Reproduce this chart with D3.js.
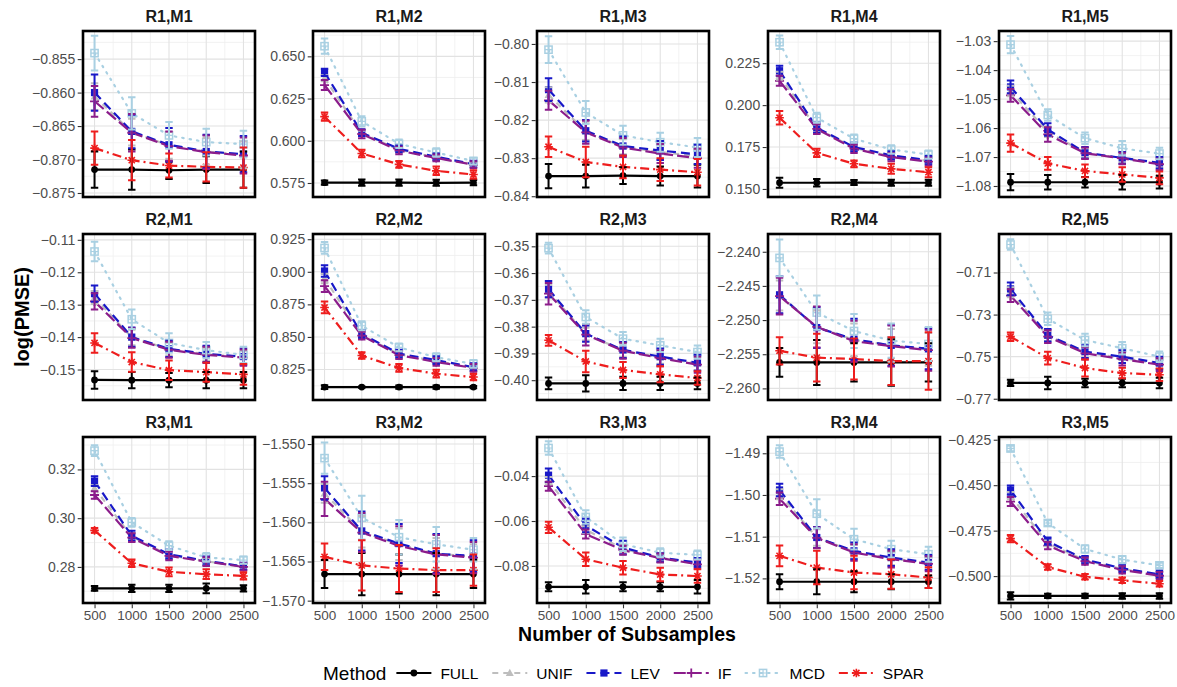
<!DOCTYPE html>
<html>
<head>
<meta charset="utf-8">
<script src="https://cdn.jsdelivr.net/npm/d3@7"></script>
<style>
  body { margin: 0; background: #ffffff; }
  svg { display: block; font-family: "Liberation Sans", Arial, Helvetica, sans-serif; }
</style>
</head>
<body>
<svg id="chart" width="1177" height="687"></svg>
<script>
// ---- data: log(PMSE) mean and standard error by number of subsamples ----
const subsamples = [500, 1000, 1500, 2000, 2500];
const panelNames = ["R1,M1", "R1,M2", "R1,M3", "R1,M4", "R1,M5",
                    "R2,M1", "R2,M2", "R2,M3", "R2,M4", "R2,M5",
                    "R3,M1", "R3,M2", "R3,M3", "R3,M4", "R3,M5"];
const methodNames = ["FULL", "UNIF", "LEV", "IF", "MCD", "SPAR"];

const fullMean = [
  [-0.8715, -0.8715, -0.8716, -0.8715, -0.8715],
  [0.5752, 0.5752, 0.5752, 0.5751, 0.5752],
  [-0.8347, -0.8347, -0.8346, -0.8347, -0.8347],
  [0.1537, 0.1537, 0.1538, 0.1537, 0.1537],
  [-1.0787, -1.0787, -1.0787, -1.0787, -1.0787],
  [-0.1532, -0.1533, -0.1533, -0.1533, -0.1533],
  [0.8115, 0.8115, 0.8115, 0.8115, 0.8115],
  [-0.4012, -0.4012, -0.4012, -0.4012, -0.4012],
  [-2.2562, -2.2562, -2.2562, -2.2562, -2.2562],
  [-0.7625, -0.7625, -0.7625, -0.7625, -0.7625],
  [0.2712, 0.2712, 0.2712, 0.2712, 0.2712],
  [-1.5666, -1.5666, -1.5666, -1.5666, -1.5666],
  [-0.0893, -0.0893, -0.0893, -0.0893, -0.0893],
  [-1.5208, -1.5208, -1.5208, -1.5208, -1.5208],
  [-0.5109, -0.5109, -0.5109, -0.5109, -0.5109]
];
const fullSE = [
  [0.0027, 0.0030, 0.0013, 0.0020, 0.0027],
  [0.0012, 0.0018, 0.0018, 0.0018, 0.0015],
  [0.0032, 0.0030, 0.0022, 0.0025, 0.0030],
  [0.0030, 0.0022, 0.0015, 0.0018, 0.0018],
  [0.0028, 0.0025, 0.0018, 0.0025, 0.0022],
  [0.0027, 0.0025, 0.0022, 0.0025, 0.0025],
  [0.0015, 0.0005, 0.0012, 0.0012, 0.0008],
  [0.0022, 0.0030, 0.0025, 0.0025, 0.0022],
  [0.0021, 0.0033, 0.0028, 0.0034, 0.0028],
  [0.0015, 0.0030, 0.0020, 0.0020, 0.0025],
  [0.0010, 0.0015, 0.0015, 0.0020, 0.0013],
  [0.0018, 0.0027, 0.0025, 0.0027, 0.0018],
  [0.0020, 0.0030, 0.0020, 0.0020, 0.0030],
  [0.0018, 0.0030, 0.0025, 0.0018, 0.0015],
  [0.0020, 0.0012, 0.0012, 0.0015, 0.0015]
];

const unifMean = [
  [-0.8606, -0.8659, -0.8679, -0.8688, -0.8693],
  [0.6370, 0.6044, 0.5947, 0.5901, 0.5860],
  [-0.8134, -0.8230, -0.8270, -0.8284, -0.8295],
  [0.2175, 0.1861, 0.1745, 0.1695, 0.1667],
  [-1.0472, -1.0613, -1.0686, -1.0704, -1.0722],
  [-0.1278, -0.1401, -0.1437, -0.1453, -0.1461],
  [0.8948, 0.8516, 0.8366, 0.8315, 0.8265],
  [-0.3668, -0.3828, -0.3888, -0.3915, -0.3938],
  [-2.2464, -2.2510, -2.2529, -2.2537, -2.2543],
  [-0.7194, -0.7401, -0.7480, -0.7506, -0.7534],
  [0.3123, 0.2924, 0.2848, 0.2823, 0.2801],
  [-1.5563, -1.5612, -1.5628, -1.5640, -1.5644],
  [-0.0420, -0.0639, -0.0724, -0.0764, -0.0789],
  [-1.4998, -1.5102, -1.5136, -1.5152, -1.5163],
  [-0.4558, -0.4820, -0.4913, -0.4961, -0.4994]
];
const unifSE = [
  [0.0020, 0.0020, 0.0020, 0.0020, 0.0020],
  [0.0018, 0.0016, 0.0016, 0.0016, 0.0016],
  [0.0020, 0.0022, 0.0020, 0.0020, 0.0020],
  [0.0024, 0.0024, 0.0020, 0.0020, 0.0020],
  [0.0018, 0.0018, 0.0016, 0.0016, 0.0016],
  [0.0020, 0.0024, 0.0020, 0.0020, 0.0020],
  [0.0036, 0.0024, 0.0024, 0.0024, 0.0024],
  [0.0024, 0.0024, 0.0024, 0.0024, 0.0024],
  [0.0022, 0.0024, 0.0024, 0.0024, 0.0024],
  [0.0024, 0.0024, 0.0024, 0.0024, 0.0024],
  [0.0012, 0.0015, 0.0014, 0.0014, 0.0012],
  [0.0012, 0.0020, 0.0020, 0.0020, 0.0016],
  [0.0016, 0.0016, 0.0016, 0.0016, 0.0016],
  [0.0012, 0.0020, 0.0016, 0.0016, 0.0014],
  [0.0020, 0.0016, 0.0016, 0.0016, 0.0016]
];

const levMean = [
  [-0.8600, -0.8658, -0.8678, -0.8688, -0.8692],
  [0.6405, 0.6048, 0.5952, 0.5905, 0.5862],
  [-0.8120, -0.8228, -0.8268, -0.8280, -0.8290],
  [0.2205, 0.1865, 0.1750, 0.1700, 0.1672],
  [-1.0458, -1.0605, -1.0685, -1.0703, -1.0720],
  [-0.1266, -0.1400, -0.1436, -0.1452, -0.1460],
  [0.9006, 0.8522, 0.8372, 0.8322, 0.8268],
  [-0.3660, -0.3826, -0.3887, -0.3912, -0.3935],
  [-2.2463, -2.2511, -2.2528, -2.2537, -2.2542],
  [-0.7178, -0.7398, -0.7476, -0.7500, -0.7530],
  [0.3152, 0.2928, 0.2852, 0.2825, 0.2802],
  [-1.5556, -1.5611, -1.5627, -1.5640, -1.5643],
  [-0.0396, -0.0620, -0.0718, -0.0763, -0.0785],
  [-1.4988, -1.5102, -1.5134, -1.5150, -1.5162],
  [-0.4527, -0.4808, -0.4909, -0.4957, -0.4991]
];
const levSE = [
  [0.0027, 0.0025, 0.0025, 0.0025, 0.0027],
  [0.0022, 0.0020, 0.0020, 0.0020, 0.0020],
  [0.0030, 0.0028, 0.0025, 0.0025, 0.0025],
  [0.0030, 0.0030, 0.0025, 0.0025, 0.0025],
  [0.0022, 0.0022, 0.0020, 0.0020, 0.0020],
  [0.0025, 0.0030, 0.0025, 0.0025, 0.0025],
  [0.0045, 0.0030, 0.0030, 0.0030, 0.0030],
  [0.0030, 0.0030, 0.0030, 0.0030, 0.0030],
  [0.0027, 0.0030, 0.0030, 0.0030, 0.0030],
  [0.0030, 0.0030, 0.0030, 0.0030, 0.0030],
  [0.0020, 0.0020, 0.0018, 0.0018, 0.0015],
  [0.0015, 0.0025, 0.0025, 0.0025, 0.0020],
  [0.0030, 0.0030, 0.0030, 0.0020, 0.0020],
  [0.0015, 0.0025, 0.0020, 0.0020, 0.0018],
  [0.0025, 0.0020, 0.0020, 0.0020, 0.0020]
];

const ifMean = [
  [-0.8613, -0.8660, -0.8680, -0.8689, -0.8694],
  [0.6330, 0.6040, 0.5942, 0.5898, 0.5858],
  [-0.8148, -0.8232, -0.8272, -0.8288, -0.8300],
  [0.2145, 0.1858, 0.1740, 0.1690, 0.1663],
  [-1.0487, -1.0622, -1.0687, -1.0705, -1.0725],
  [-0.1290, -0.1403, -0.1439, -0.1455, -0.1463],
  [0.8890, 0.8510, 0.8360, 0.8308, 0.8262],
  [-0.3677, -0.3830, -0.3890, -0.3918, -0.3942],
  [-2.2465, -2.2510, -2.2531, -2.2538, -2.2544],
  [-0.7210, -0.7405, -0.7484, -0.7512, -0.7538],
  [0.3095, 0.2920, 0.2845, 0.2822, 0.2800],
  [-1.5570, -1.5613, -1.5630, -1.5641, -1.5645],
  [-0.0445, -0.0658, -0.0730, -0.0765, -0.0793],
  [-1.5009, -1.5103, -1.5138, -1.5154, -1.5165],
  [-0.4590, -0.4832, -0.4918, -0.4966, -0.4998]
];
const ifSE = [
  [0.0023, 0.0028, 0.0022, 0.0025, 0.0027],
  [0.0030, 0.0025, 0.0022, 0.0020, 0.0020],
  [0.0025, 0.0030, 0.0025, 0.0025, 0.0025],
  [0.0030, 0.0030, 0.0025, 0.0025, 0.0025],
  [0.0022, 0.0025, 0.0020, 0.0020, 0.0020],
  [0.0025, 0.0030, 0.0025, 0.0025, 0.0025],
  [0.0045, 0.0030, 0.0030, 0.0030, 0.0030],
  [0.0040, 0.0040, 0.0030, 0.0030, 0.0030],
  [0.0027, 0.0030, 0.0030, 0.0030, 0.0030],
  [0.0030, 0.0030, 0.0030, 0.0030, 0.0030],
  [0.0015, 0.0018, 0.0018, 0.0018, 0.0015],
  [0.0022, 0.0025, 0.0025, 0.0025, 0.0020],
  [0.0020, 0.0020, 0.0020, 0.0020, 0.0020],
  [0.0015, 0.0025, 0.0020, 0.0020, 0.0018],
  [0.0025, 0.0020, 0.0020, 0.0020, 0.0020]
];

const mcdMean = [
  [-0.8541, -0.8631, -0.8664, -0.8674, -0.8677],
  [0.6560, 0.6115, 0.5982, 0.5930, 0.5880],
  [-0.8015, -0.8180, -0.8240, -0.8258, -0.8272],
  [0.2375, 0.1925, 0.1800, 0.1735, 0.1705],
  [-1.0312, -1.0555, -1.0635, -1.0670, -1.0688],
  [-0.1136, -0.1345, -0.1418, -0.1440, -0.1455],
  [0.9183, 0.8586, 0.8420, 0.8344, 0.8293],
  [-0.3507, -0.3764, -0.3845, -0.3870, -0.3895],
  [-2.2409, -2.2489, -2.2516, -2.2530, -2.2535],
  [-0.6967, -0.7320, -0.7421, -0.7460, -0.7500],
  [0.3277, 0.2983, 0.2887, 0.2839, 0.2828],
  [-1.5518, -1.5594, -1.5619, -1.5628, -1.5635],
  [-0.0275, -0.0582, -0.0703, -0.0741, -0.0751],
  [-1.4896, -1.5045, -1.5106, -1.5130, -1.5142],
  [-0.4298, -0.4708, -0.4851, -0.4909, -0.4941]
];
const mcdSE = [
  [0.0026, 0.0024, 0.0020, 0.0020, 0.0020],
  [0.0045, 0.0030, 0.0025, 0.0025, 0.0020],
  [0.0035, 0.0030, 0.0025, 0.0025, 0.0025],
  [0.0040, 0.0030, 0.0025, 0.0025, 0.0025],
  [0.0030, 0.0020, 0.0020, 0.0025, 0.0020],
  [0.0030, 0.0030, 0.0030, 0.0025, 0.0025],
  [0.0045, 0.0035, 0.0030, 0.0030, 0.0030],
  [0.0020, 0.0025, 0.0025, 0.0025, 0.0025],
  [0.0027, 0.0025, 0.0025, 0.0025, 0.0025],
  [0.0025, 0.0030, 0.0030, 0.0030, 0.0025],
  [0.0022, 0.0018, 0.0018, 0.0018, 0.0015],
  [0.0020, 0.0028, 0.0022, 0.0022, 0.0015],
  [0.0030, 0.0030, 0.0030, 0.0020, 0.0020],
  [0.0015, 0.0035, 0.0025, 0.0020, 0.0018],
  [0.0015, 0.0015, 0.0020, 0.0020, 0.0015]
];

const sparMean = [
  [-0.8683, -0.8701, -0.8709, -0.8711, -0.8712],
  [0.6143, 0.5925, 0.5860, 0.5822, 0.5800],
  [-0.8270, -0.8310, -0.8323, -0.8330, -0.8337],
  [0.1925, 0.1715, 0.1650, 0.1620, 0.1600],
  [-1.0652, -1.0722, -1.0748, -1.0760, -1.0772],
  [-0.1418, -0.1477, -0.1502, -0.1508, -0.1515],
  [0.8726, 0.8357, 0.8262, 0.8218, 0.8192],
  [-0.3851, -0.3930, -0.3962, -0.3978, -0.3992],
  [-2.2545, -2.2555, -2.2557, -2.2560, -2.2560],
  [-0.7405, -0.7507, -0.7554, -0.7578, -0.7586],
  [0.2950, 0.2815, 0.2780, 0.2770, 0.2763],
  [-1.5644, -1.5655, -1.5659, -1.5661, -1.5661],
  [-0.0628, -0.0770, -0.0808, -0.0838, -0.0845],
  [-1.5146, -1.5174, -1.5186, -1.5190, -1.5198],
  [-0.4794, -0.4950, -0.5004, -0.5023, -0.5042]
];
const sparSE = [
  [0.0025, 0.0030, 0.0018, 0.0022, 0.0030],
  [0.0025, 0.0022, 0.0020, 0.0025, 0.0025],
  [0.0027, 0.0040, 0.0030, 0.0030, 0.0035],
  [0.0040, 0.0025, 0.0020, 0.0030, 0.0030],
  [0.0030, 0.0022, 0.0022, 0.0025, 0.0022],
  [0.0030, 0.0030, 0.0030, 0.0030, 0.0032],
  [0.0045, 0.0025, 0.0030, 0.0030, 0.0025],
  [0.0020, 0.0040, 0.0030, 0.0030, 0.0025],
  [0.0020, 0.0035, 0.0030, 0.0035, 0.0042],
  [0.0020, 0.0030, 0.0040, 0.0025, 0.0030],
  [0.0010, 0.0015, 0.0018, 0.0020, 0.0015],
  [0.0017, 0.0032, 0.0030, 0.0028, 0.0020],
  [0.0025, 0.0030, 0.0030, 0.0030, 0.0030],
  [0.0025, 0.0040, 0.0040, 0.0035, 0.0025],
  [0.0020, 0.0015, 0.0015, 0.0015, 0.0015]
];

// y-axis limits, first major tick, tick spacing and label decimals for each panel
const yLimits = [
  [-0.8756, -0.8508], [0.5667, 0.6650], [-0.8402, -0.7966], [0.1452, 0.2442], [-1.0838, -1.0265],
  [-0.1594, -0.1082], [0.8016, 0.9290], [-0.4074, -0.3454], [-2.2617, -2.2374], [-0.7706, -0.6917],
  [0.2652, 0.3333], [-1.5703, -1.5491], [-0.0965, -0.0226], [-1.5259, -1.4861], [-0.5148, -0.4235]
];
const yTickFirst = [-0.875, 0.575, -0.84, 0.150, -1.08,
                    -0.15, 0.825, -0.40, -2.260, -0.77,
                    0.28, -1.570, -0.08, -1.52, -0.500];
const yTickStep = [0.005, 0.025, 0.01, 0.025, 0.01,
                   0.01, 0.025, 0.01, 0.005, 0.02,
                   0.02, 0.005, 0.02, 0.01, 0.025];
const yTickDigits = [3, 3, 2, 3, 2,
                     2, 3, 2, 3, 2,
                     2, 3, 2, 2, 3];

const meanByMethod = { FULL: fullMean, UNIF: unifMean, LEV: levMean, IF: ifMean, MCD: mcdMean, SPAR: sparMean };
const seByMethod   = { FULL: fullSE,   UNIF: unifSE,   LEV: levSE,   IF: ifSE,   MCD: mcdSE,   SPAR: sparSE };

// ---- appearance ----
const methodStyle = {
  FULL: { color: "#000000", dash: null,        shape: "circle" },
  UNIF: { color: "#BEBEBE", dash: "6,5",       shape: "triangle" },
  LEV:  { color: "#1818C8", dash: "9,5",       shape: "square" },
  IF:   { color: "#8B1C8B", dash: "12,4",      shape: "plus" },
  MCD:  { color: "#A9D0E2", dash: "1.5,6",     shape: "squareplus" },
  SPAR: { color: "#EE1D1D", dash: "9,4,2,4",   shape: "asterisk" }
};

const W = 1177, H = 687;
const colLeft = [83, 313, 537, 768, 999];
const rowTop = [31, 234, 437];
const panelW = 172, panelH = 166;
const capHalf = 50; // half-width of error-bar caps in x-data units
const minus = s => s.replace(/-/g, "\u2212");

const svg = d3.select("#chart");
svg.append("rect").attr("width", W).attr("height", H).attr("fill", "#ffffff");
const defs = svg.append("defs");

function drawMarker(g, shape, color, cx, cy) {
  const s = 3.6;
  if (shape === "circle") {
    g.append("circle").attr("cx", cx).attr("cy", cy).attr("r", 3.4).attr("fill", color);
  } else if (shape === "triangle") {
    g.append("path").attr("d", `M${cx},${cy - 4.2}L${cx + 4},${cy + 3}L${cx - 4},${cy + 3}Z`).attr("fill", color);
  } else if (shape === "square") {
    g.append("rect").attr("x", cx - s).attr("y", cy - s).attr("width", 2 * s).attr("height", 2 * s).attr("fill", color);
  } else if (shape === "plus") {
    g.append("path").attr("d", `M${cx - 4.5},${cy}H${cx + 4.5}M${cx},${cy - 4.5}V${cy + 4.5}`)
      .attr("stroke", color).attr("stroke-width", 1.8).attr("fill", "none");
  } else if (shape === "squareplus") {
    g.append("rect").attr("x", cx - s).attr("y", cy - s).attr("width", 2 * s).attr("height", 2 * s)
      .attr("fill", "none").attr("stroke", color).attr("stroke-width", 1.5);
    g.append("path").attr("d", `M${cx - s},${cy}H${cx + s}M${cx},${cy - s}V${cy + s}`)
      .attr("stroke", color).attr("stroke-width", 1.2).attr("fill", "none");
  } else if (shape === "asterisk") {
    const a = 4.3, b = 3.1;
    g.append("path").attr("d",
      `M${cx - a},${cy}H${cx + a}M${cx},${cy - a}V${cy + a}M${cx - b},${cy - b}L${cx + b},${cy + b}M${cx - b},${cy + b}L${cx + b},${cy - b}`)
      .attr("stroke", color).attr("stroke-width", 1.6).attr("fill", "none");
  }
}

panelNames.forEach((name, i) => {
  const r = Math.floor(i / 5), c = i % 5;
  const left = colLeft[c], top = rowTop[r];

  const xr = [d3.min(subsamples) - capHalf, d3.max(subsamples) + capHalf];
  const xpad = (xr[1] - xr[0]) * 0.05;
  const x = d3.scaleLinear().domain([xr[0] - xpad, xr[1] + xpad]).range([left, left + panelW]);
  const y = d3.scaleLinear().domain(yLimits[i]).range([top + panelH, top]);

  const g = svg.append("g");
  const clipId = "clip" + i;
  defs.append("clipPath").attr("id", clipId).append("rect")
    .attr("x", left).attr("y", top).attr("width", panelW).attr("height", panelH);

  // grid lines
  const step = yTickStep[i];
  const [lo, hi] = yLimits[i];
  const majors = [];
  for (let v = yTickFirst[i]; v <= hi + 1e-9; v += step) majors.push(+v.toFixed(6));
  const minors = [majors[0] - step / 2].concat(majors.map(v => v + step / 2)).filter(m => m > lo && m < hi);
  const xMinors = d3.pairs(subsamples).map(p => (p[0] + p[1]) / 2);

  const grid = g.append("g");
  grid.selectAll(".ymin").data(minors).enter().append("line")
    .attr("x1", left).attr("x2", left + panelW).attr("y1", d => y(d)).attr("y2", d => y(d))
    .attr("stroke", "#EFEFEF").attr("stroke-width", 0.8);
  grid.selectAll(".xmin").data(xMinors).enter().append("line")
    .attr("y1", top).attr("y2", top + panelH).attr("x1", d => x(d)).attr("x2", d => x(d))
    .attr("stroke", "#EFEFEF").attr("stroke-width", 0.8);
  grid.selectAll(".ymaj").data(majors).enter().append("line")
    .attr("x1", left).attr("x2", left + panelW).attr("y1", d => y(d)).attr("y2", d => y(d))
    .attr("stroke", "#E2E2E2").attr("stroke-width", 1.1);
  grid.selectAll(".xmaj").data(subsamples).enter().append("line")
    .attr("y1", top).attr("y2", top + panelH).attr("x1", d => x(d)).attr("x2", d => x(d))
    .attr("stroke", "#E2E2E2").attr("stroke-width", 1.1);

  const plot = g.append("g").attr("clip-path", `url(#${clipId})`);

  // lines
  const line = d3.line().x((d, j) => x(subsamples[j])).y(d => y(d));
  methodNames.forEach(m => {
    const st = methodStyle[m];
    plot.append("path").datum(meanByMethod[m][i]).attr("d", line)
      .attr("fill", "none").attr("stroke", st.color).attr("stroke-width", 2.2)
      .attr("stroke-dasharray", st.dash).attr("stroke-linecap", m === "MCD" ? "round" : "butt");
  });

  // points
  methodNames.forEach(m => {
    const st = methodStyle[m];
    const pg = plot.append("g");
    meanByMethod[m][i].forEach((v, j) => drawMarker(pg, st.shape, st.color, x(subsamples[j]), y(v)));
  });

  // error bars
  methodNames.forEach(m => {
    const st = methodStyle[m];
    const eg = plot.append("g").attr("stroke", st.color).attr("stroke-width", 2).attr("fill", "none");
    meanByMethod[m][i].forEach((v, j) => {
      const se = seByMethod[m][i][j];
      const xs = subsamples[j];
      const yT = y(v + se), yB = y(v - se);
      eg.append("path").attr("d",
        `M${x(xs)},${yT}V${yB}M${x(xs - capHalf)},${yT}H${x(xs + capHalf)}M${x(xs - capHalf)},${yB}H${x(xs + capHalf)}`);
    });
  });

  // panel border
  g.append("rect").attr("x", left).attr("y", top).attr("width", panelW).attr("height", panelH)
    .attr("fill", "none").attr("stroke", "#000").attr("stroke-width", 2.6);

  // y axis
  const fmt = d3.format("." + yTickDigits[i] + "f");
  const ya = g.append("g").attr("transform", `translate(${left - 1.3},0)`)
    .call(d3.axisLeft(y).tickValues(majors).tickSize(4).tickPadding(2.5).tickFormat(d => minus(fmt(d))));
  ya.select(".domain").remove();
  ya.selectAll(".tick line").attr("stroke", "#333333").attr("stroke-width", 1.1);
  ya.selectAll(".tick text").attr("fill", "#4D4D4D").style("font-size", "14px")
    .style("font-family", "'Liberation Sans', Arial, sans-serif");

  // x axis on the bottom row only
  if (r === 2) {
    const xa = g.append("g").attr("transform", `translate(0,${top + panelH + 1.3})`)
      .call(d3.axisBottom(x).tickValues(subsamples).tickSize(4).tickPadding(2.5).tickFormat(d3.format("d")));
    xa.select(".domain").remove();
    xa.selectAll(".tick line").attr("stroke", "#333333").attr("stroke-width", 1.1);
    xa.selectAll(".tick text").attr("fill", "#4D4D4D").style("font-size", "13.5px")
      .style("font-family", "'Liberation Sans', Arial, sans-serif");
  }

  // panel title
  g.append("text").attr("x", left + panelW / 2).attr("y", top - 9)
    .attr("text-anchor", "middle").attr("font-weight", "bold").attr("font-size", 16)
    .attr("fill", "#1A1A1A").text(name);
});

// axis titles
svg.append("text").attr("transform", "translate(29,317) rotate(-90)")
  .attr("text-anchor", "middle").attr("font-weight", "bold").attr("font-size", 20)
  .attr("fill", "#000").text("log(PMSE)");
svg.append("text").attr("x", 627).attr("y", 641)
  .attr("text-anchor", "middle").attr("font-weight", "bold").attr("font-size", 19.5)
  .attr("fill", "#000").text("Number of Subsamples");

// legend
const legY = 673;
const leg = svg.append("g");
const title = leg.append("text").attr("x", 323).attr("y", legY + 7).attr("font-size", 19)
  .attr("fill", "#000").text("Method");
let lx = 323 + title.node().getComputedTextLength() + 10;
methodNames.forEach(m => {
  const st = methodStyle[m];
  const kw = 35;
  leg.append("line").attr("x1", lx).attr("x2", lx + kw).attr("y1", legY).attr("y2", legY)
    .attr("stroke", st.color).attr("stroke-width", 2.2).attr("stroke-dasharray", st.dash)
    .attr("stroke-linecap", m === "MCD" ? "round" : "butt");
  drawMarker(leg, st.shape, st.color, lx + kw / 2, legY);
  const t = leg.append("text").attr("x", lx + kw + 9).attr("y", legY + 6).attr("font-size", 15.5)
    .attr("fill", "#000").text(m);
  lx += kw + 9 + t.node().getComputedTextLength() + 14;
});
</script>
</body>
</html>
